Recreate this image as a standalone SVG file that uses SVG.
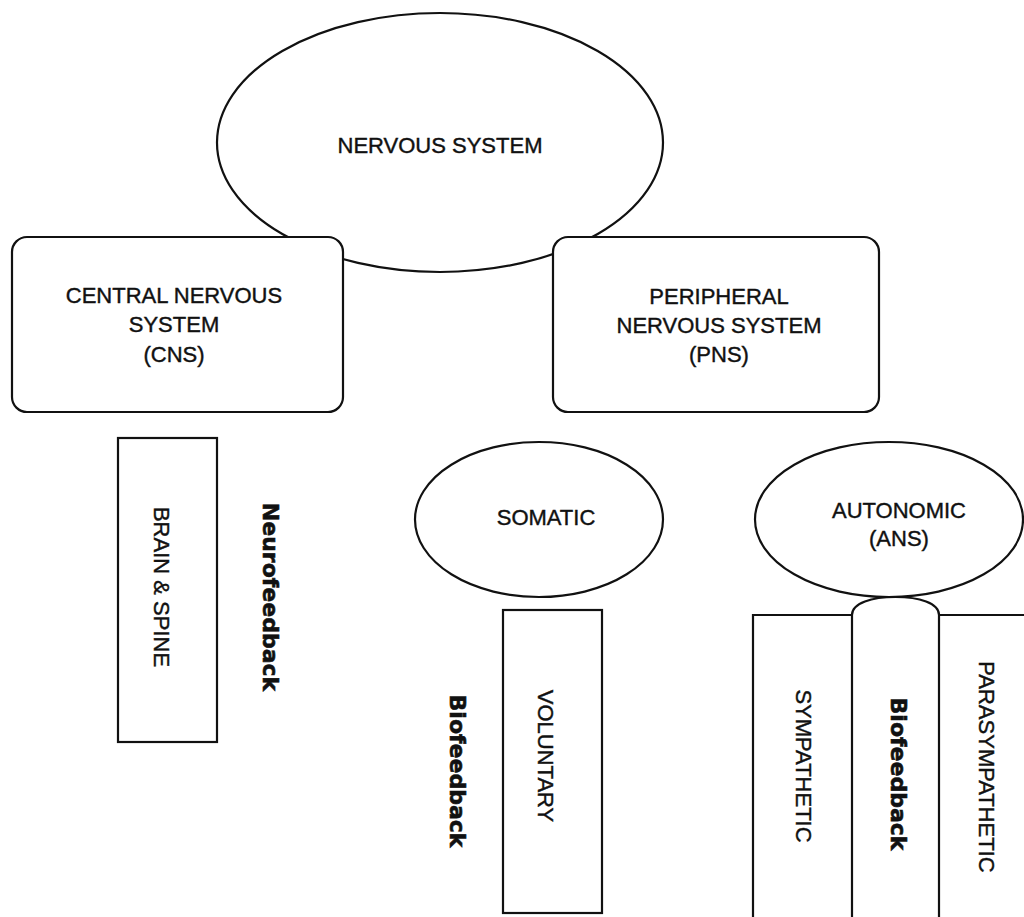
<svg xmlns="http://www.w3.org/2000/svg" width="1024" height="917" viewBox="0 0 1024 917">
<style>
.s{fill:#fff;stroke:#111;stroke-width:2.2}
.o{fill:none;stroke:#111;stroke-width:2.2}
.t{font-family:"Liberation Sans",Arial,sans-serif;font-size:22px;fill:#111;stroke:#111;stroke-width:0.4;text-anchor:middle}
.b{font-family:"DejaVu Sans",Verdana,sans-serif;font-weight:bold;font-size:22px;fill:#111;stroke:#111;stroke-width:0.6;text-anchor:middle}
</style>
<rect width="1024" height="917" fill="#fff"/>
<g id="nervous-system">
<ellipse class="s" cx="440" cy="142.5" rx="223" ry="129.5"/>
<text class="t" x="440" y="153">NERVOUS SYSTEM</text>
</g>
<g id="cns">
<rect class="s" x="12" y="237" width="331" height="175" rx="15"/>
<text class="t" x="174" y="303">CENTRAL NERVOUS</text>
<text class="t" x="174" y="332">SYSTEM</text>
<text class="t" x="174" y="362">(CNS)</text>
</g>
<g id="pns">
<rect class="s" x="553" y="237" width="326" height="175" rx="15"/>
<text class="t" x="719" y="304">PERIPHERAL</text>
<text class="t" x="719" y="333">NERVOUS SYSTEM</text>
<text class="t" x="719" y="362">(PNS)</text>
</g>
<g id="brain-spine">
<rect class="s" x="118" y="438" width="99" height="304"/>
<text class="t" transform="translate(162,587) rotate(90)" y="8">BRAIN &amp; SPINE</text>
</g>
<g id="neurofeedback">
<text class="b" transform="translate(271,597) rotate(90)" y="8">Neurofeedback</text>
</g>
<g id="somatic">
<ellipse class="s" cx="539" cy="519.5" rx="124" ry="77.5"/>
<text class="t" x="546" y="525">SOMATIC</text>
</g>
<g id="voluntary">
<rect class="s" x="503" y="610" width="99" height="303"/>
<text class="t" transform="translate(546,756) rotate(90)" y="8">VOLUNTARY</text>
</g>
<g id="biofeedback-somatic">
<text class="b" transform="translate(458,771) rotate(90)" y="8">Biofeedback</text>
</g>
<g id="autonomic">
<ellipse class="s" cx="889" cy="519.5" rx="134" ry="77.5"/>
<text class="t" x="899" y="518">AUTONOMIC</text>
<text class="t" x="899" y="546">(ANS)</text>
</g>
<g id="sympathetic">
<path class="o" d="M753,920 V615 H852"/>
<text class="t" transform="translate(804,766) rotate(90)" y="8">SYMPATHETIC</text>
</g>
<g id="biofeedback-ans">
<path class="o" d="M852,920 V615 C852,603 872,597 895.5,597 C919,597 939,603 939,615 V920"/>
<text class="b" transform="translate(899,774) rotate(90)" y="8">Biofeedback</text>
</g>
<g id="parasympathetic">
<path class="o" d="M939,615 H1026"/>
<text class="t" transform="translate(987,767) rotate(90)" y="8">PARASYMPATHETIC</text>
</g>
<g id="connectors"/>
</svg>
